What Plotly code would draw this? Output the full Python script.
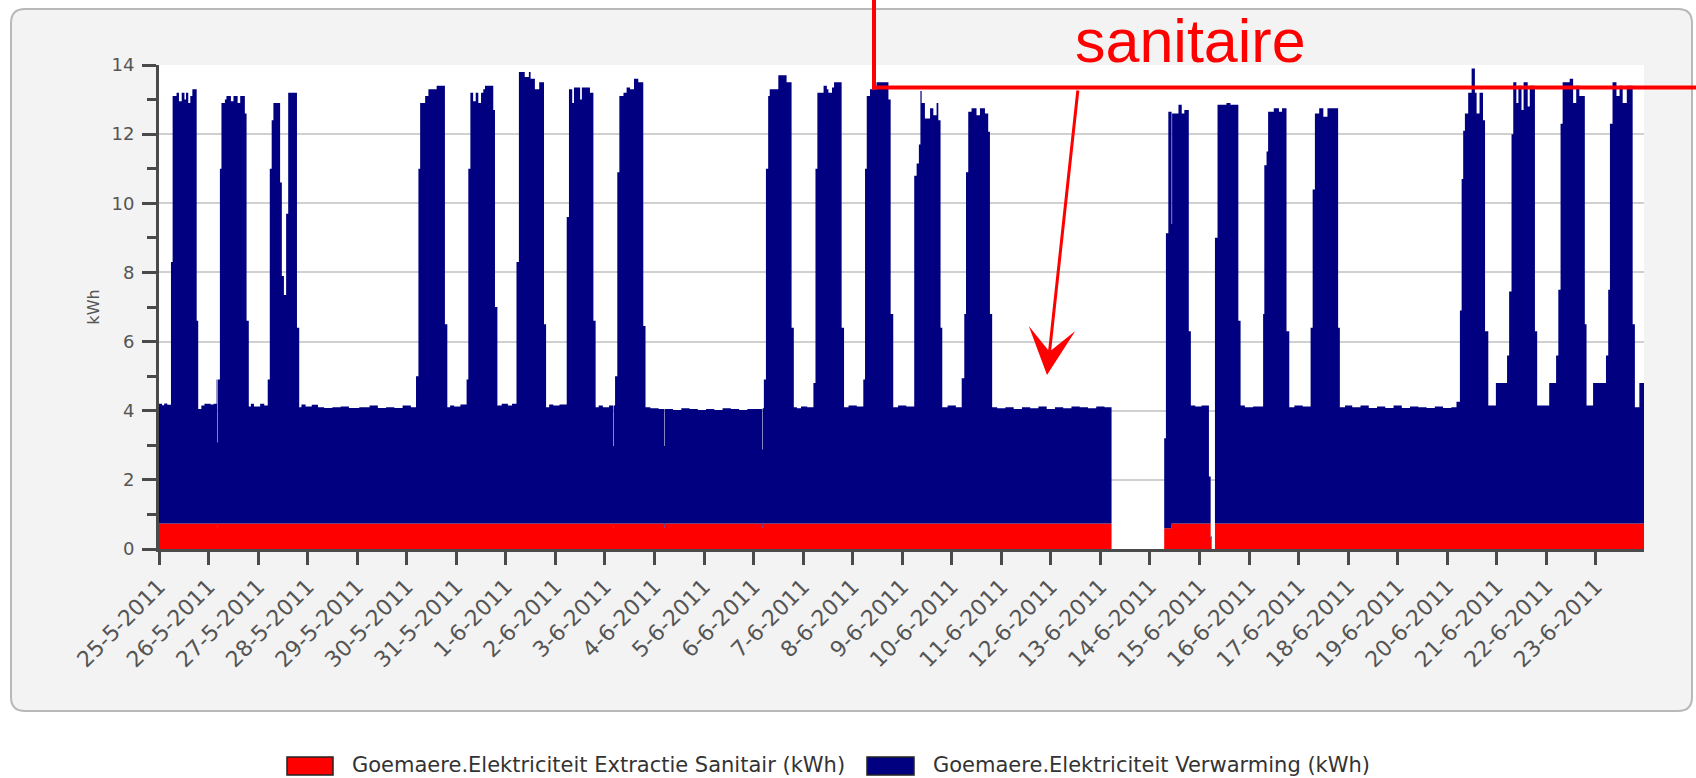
import plotly.graph_objects as go

# ---------------- data ----------------
# step breakpoints: each value holds until the next breakpoint
times = [
    # 25-5
    "2011-05-25 00:00", "2011-05-25 01:30", "2011-05-25 02:30", "2011-05-25 04:00", "2011-05-25 05:48", "2011-05-25 06:36",
    "2011-05-25 08:30", "2011-05-25 09:40", "2011-05-25 11:00", "2011-05-25 12:20", "2011-05-25 13:05", "2011-05-25 14:10",
    "2011-05-25 15:10", "2011-05-25 16:10", "2011-05-25 18:15", "2011-05-25 19:00", "2011-05-25 20:30", "2011-05-25 22:00",
    # 26-5
    "2011-05-26 01:00", "2011-05-26 02:30", "2011-05-26 03:54", "2011-05-26 04:20", "2011-05-26 04:35", "2011-05-26 05:30",
    "2011-05-26 06:15", "2011-05-26 07:55", "2011-05-26 08:40", "2011-05-26 10:50", "2011-05-26 12:05", "2011-05-26 14:05",
    "2011-05-26 15:20", "2011-05-26 17:35", "2011-05-26 18:25", "2011-05-26 19:30", "2011-05-26 20:30", "2011-05-26 22:00",
    # 27-5
    "2011-05-27 01:00", "2011-05-27 03:00", "2011-05-27 04:40", "2011-05-27 05:40", "2011-05-27 06:35", "2011-05-27 07:25",
    "2011-05-27 10:40", "2011-05-27 11:30", "2011-05-27 12:30", "2011-05-27 13:35", "2011-05-27 14:35", "2011-05-27 18:50",
    "2011-05-27 19:55", "2011-05-27 21:00", "2011-05-27 23:00",
    # 28-5
    "2011-05-28 02:00", "2011-05-28 05:00", "2011-05-28 08:00", "2011-05-28 12:00", "2011-05-28 16:00", "2011-05-28 20:00",
    # 29-5
    "2011-05-29 01:00", "2011-05-29 06:00", "2011-05-29 10:00", "2011-05-29 14:00", "2011-05-29 18:00", "2011-05-29 22:00",
    # 30-5
    "2011-05-30 02:00", "2011-05-30 04:30", "2011-05-30 05:40", "2011-05-30 06:30", "2011-05-30 08:55", "2011-05-30 10:30",
    "2011-05-30 14:30", "2011-05-30 18:30", "2011-05-30 19:40", "2011-05-30 21:00", "2011-05-30 23:00",
    # 31-5
    "2011-05-31 02:00", "2011-05-31 05:00", "2011-05-31 05:50", "2011-05-31 06:50", "2011-05-31 08:10", "2011-05-31 09:25",
    "2011-05-31 10:40", "2011-05-31 12:00", "2011-05-31 13:05", "2011-05-31 13:55", "2011-05-31 17:55", "2011-05-31 18:45",
    "2011-05-31 19:55", "2011-05-31 22:00",
    # 1-6
    "2011-06-01 01:00", "2011-06-01 03:00", "2011-06-01 05:10", "2011-06-01 06:20", "2011-06-01 09:10", "2011-06-01 11:10",
    "2011-06-01 12:00", "2011-06-01 14:05", "2011-06-01 16:10", "2011-06-01 18:30", "2011-06-01 19:30", "2011-06-01 21:00",
    "2011-06-01 23:00",
    # 2-6
    "2011-06-02 02:00", "2011-06-02 05:30", "2011-06-02 06:35", "2011-06-02 08:10", "2011-06-02 09:00", "2011-06-02 12:00",
    "2011-06-02 12:50", "2011-06-02 16:45", "2011-06-02 18:25", "2011-06-02 19:30", "2011-06-02 21:00", "2011-06-02 23:00",
    # 3-6
    "2011-06-03 02:00", "2011-06-03 04:00", "2011-06-03 04:15", "2011-06-03 04:55", "2011-06-03 06:00", "2011-06-03 07:00",
    "2011-06-03 09:00", "2011-06-03 10:30", "2011-06-03 12:10", "2011-06-03 14:05", "2011-06-03 16:10", "2011-06-03 18:35",
    "2011-06-03 19:40", "2011-06-03 22:00",
    # 4-6
    "2011-06-04 02:00", "2011-06-04 04:50", "2011-06-04 05:05", "2011-06-04 09:00", "2011-06-04 13:00", "2011-06-04 17:00",
    "2011-06-04 21:00",
    # 5-6
    "2011-06-05 01:00", "2011-06-05 05:00", "2011-06-05 09:00", "2011-06-05 13:00", "2011-06-05 17:00", "2011-06-05 21:00",
    # 6-6
    "2011-06-06 01:00", "2011-06-06 04:10", "2011-06-06 04:25", "2011-06-06 05:00", "2011-06-06 06:00", "2011-06-06 07:05",
    "2011-06-06 07:50", "2011-06-06 12:00", "2011-06-06 16:00", "2011-06-06 18:25", "2011-06-06 19:30", "2011-06-06 21:00",
    "2011-06-06 23:00",
    # 7-6
    "2011-06-07 02:00", "2011-06-07 05:00", "2011-06-07 06:00", "2011-06-07 06:55", "2011-06-07 09:55", "2011-06-07 11:30",
    "2011-06-07 12:15", "2011-06-07 14:00", "2011-06-07 15:00", "2011-06-07 18:40", "2011-06-07 19:50", "2011-06-07 22:00",
    # 8-6
    "2011-06-08 02:00", "2011-06-08 05:10", "2011-06-08 06:00", "2011-06-08 06:50", "2011-06-08 08:25", "2011-06-08 11:35",
    "2011-06-08 17:20", "2011-06-08 18:25", "2011-06-08 19:40", "2011-06-08 22:00",
    # 9-6
    "2011-06-09 02:00", "2011-06-09 05:50", "2011-06-09 07:00", "2011-06-09 08:05", "2011-06-09 08:50", "2011-06-09 09:25",
    "2011-06-09 11:00", "2011-06-09 13:30", "2011-06-09 15:05", "2011-06-09 16:40", "2011-06-09 17:30", "2011-06-09 18:35",
    "2011-06-09 19:25", "2011-06-09 22:00",
    # 10-6
    "2011-06-10 02:00", "2011-06-10 04:50", "2011-06-10 06:05", "2011-06-10 06:55", "2011-06-10 08:00", "2011-06-10 09:35",
    "2011-06-10 12:00", "2011-06-10 13:40", "2011-06-10 16:05", "2011-06-10 17:40", "2011-06-10 18:30", "2011-06-10 19:35",
    "2011-06-10 22:00",
    # 11-6
    "2011-06-11 02:00", "2011-06-11 06:00", "2011-06-11 10:00", "2011-06-11 14:00", "2011-06-11 18:00", "2011-06-11 22:00",
    # 12-6
    "2011-06-12 02:00", "2011-06-12 06:00", "2011-06-12 10:00", "2011-06-12 14:00", "2011-06-12 18:00", "2011-06-12 22:00",
    # 13-6
    "2011-06-13 02:00", "2011-06-13 05:25",
    # 14-6
    "2011-06-14 06:55", "2011-06-14 07:45", "2011-06-14 08:55", "2011-06-14 10:30", "2011-06-14 10:45", "2011-06-14 13:50",
    "2011-06-14 15:25", "2011-06-14 16:40", "2011-06-14 18:50", "2011-06-14 19:50", "2011-06-14 22:00",
    # 15-6
    "2011-06-15 01:00", "2011-06-15 04:35", "2011-06-15 05:25", "2011-06-15 05:55", "2011-06-15 07:30", "2011-06-15 08:45",
    "2011-06-15 13:05", "2011-06-15 15:00", "2011-06-15 18:50", "2011-06-15 19:55", "2011-06-15 22:00",
    # 16-6
    "2011-06-16 02:00", "2011-06-16 06:50", "2011-06-16 07:25", "2011-06-16 08:30", "2011-06-16 09:15", "2011-06-16 12:00",
    "2011-06-16 14:30", "2011-06-16 16:00", "2011-06-16 18:10", "2011-06-16 19:30", "2011-06-16 22:00",
    # 17-6
    "2011-06-17 02:00", "2011-06-17 05:50", "2011-06-17 06:50", "2011-06-17 07:55", "2011-06-17 10:00", "2011-06-17 12:00",
    "2011-06-17 14:00", "2011-06-17 19:10", "2011-06-17 20:00", "2011-06-17 22:30",
    # 18-6
    "2011-06-18 02:00", "2011-06-18 06:00", "2011-06-18 10:00", "2011-06-18 14:00", "2011-06-18 18:00", "2011-06-18 22:00",
    # 19-6
    "2011-06-19 02:00", "2011-06-19 06:00", "2011-06-19 10:00", "2011-06-19 14:00", "2011-06-19 18:00", "2011-06-19 22:00",
    # 20-6
    "2011-06-20 02:00", "2011-06-20 04:30", "2011-06-20 06:10", "2011-06-20 07:00", "2011-06-20 07:45", "2011-06-20 08:35",
    "2011-06-20 10:10", "2011-06-20 11:50", "2011-06-20 13:25", "2011-06-20 14:15", "2011-06-20 15:40", "2011-06-20 17:20",
    "2011-06-20 18:20", "2011-06-20 19:55", "2011-06-20 23:35",
    # 21-6
    "2011-06-21 05:00", "2011-06-21 06:00", "2011-06-21 07:10", "2011-06-21 08:00", "2011-06-21 09:30", "2011-06-21 10:30",
    "2011-06-21 12:00", "2011-06-21 13:00", "2011-06-21 15:00", "2011-06-21 16:00", "2011-06-21 18:30", "2011-06-21 19:35",
    # 22-6
    "2011-06-22 01:25", "2011-06-22 04:45", "2011-06-22 05:50", "2011-06-22 06:55", "2011-06-22 07:55", "2011-06-22 11:20",
    "2011-06-22 13:00", "2011-06-22 14:30", "2011-06-22 16:00", "2011-06-22 18:40", "2011-06-22 19:30", "2011-06-22 22:40",
    # 23-6
    "2011-06-23 04:55", "2011-06-23 06:00", "2011-06-23 06:50", "2011-06-23 08:05", "2011-06-23 10:00", "2011-06-23 11:30",
    "2011-06-23 13:00", "2011-06-23 15:00", "2011-06-23 17:50", "2011-06-23 18:55", "2011-06-23 21:05", "2011-06-23 23:20",
]

sanitair_kwh = [
    # 25-5
    0.74, 0.74, 0.74, 0.74, 0.74, 0.74, 0.74, 0.74, 0.74, 0.74, 0.74, 0.74, 0.74, 0.74, 0.74, 0.74, 0.74, 0.74,
    # 26-5
    0.74, 0.74, 0.74, 0.62, 0.74, 0.74, 0.74, 0.74, 0.74, 0.74, 0.74, 0.74, 0.74, 0.74, 0.74, 0.74, 0.74, 0.74,
    # 27-5
    0.74, 0.74, 0.74, 0.74, 0.74, 0.74, 0.74, 0.74, 0.74, 0.74, 0.74, 0.74, 0.74, 0.74, 0.74,
    # 28-5
    0.74, 0.74, 0.74, 0.74, 0.74, 0.74,
    # 29-5
    0.74, 0.74, 0.74, 0.74, 0.74, 0.74,
    # 30-5
    0.74, 0.74, 0.74, 0.74, 0.74, 0.74, 0.74, 0.74, 0.74, 0.74, 0.74,
    # 31-5
    0.74, 0.74, 0.74, 0.74, 0.74, 0.74, 0.74, 0.74, 0.74, 0.74, 0.74, 0.74, 0.74, 0.74,
    # 1-6
    0.74, 0.74, 0.74, 0.74, 0.74, 0.74, 0.74, 0.74, 0.74, 0.74, 0.74, 0.74, 0.74,
    # 2-6
    0.74, 0.74, 0.74, 0.74, 0.74, 0.74, 0.74, 0.74, 0.74, 0.74, 0.74, 0.74,
    # 3-6
    0.74, 0.62, 0.74, 0.74, 0.74, 0.74, 0.74, 0.74, 0.74, 0.74, 0.74, 0.74, 0.74, 0.74,
    # 4-6
    0.74, 0.62, 0.74, 0.74, 0.74, 0.74, 0.74,
    # 5-6
    0.74, 0.74, 0.74, 0.74, 0.74, 0.74,
    # 6-6
    0.74, 0.62, 0.74, 0.74, 0.74, 0.74, 0.74, 0.74, 0.74, 0.74, 0.74, 0.74, 0.74,
    # 7-6
    0.74, 0.74, 0.74, 0.74, 0.74, 0.74, 0.74, 0.74, 0.74, 0.74, 0.74, 0.74,
    # 8-6
    0.74, 0.74, 0.74, 0.74, 0.74, 0.74, 0.74, 0.74, 0.74, 0.74,
    # 9-6
    0.74, 0.74, 0.74, 0.74, 0.74, 0.74, 0.74, 0.74, 0.74, 0.74, 0.74, 0.74, 0.74, 0.74,
    # 10-6
    0.74, 0.74, 0.74, 0.74, 0.74, 0.74, 0.74, 0.74, 0.74, 0.74, 0.74, 0.74, 0.74,
    # 11-6
    0.74, 0.74, 0.74, 0.74, 0.74, 0.74,
    # 12-6
    0.74, 0.74, 0.74, 0.74, 0.74, 0.74,
    # 13-6
    0.74, 0.00,
    # 14-6
    0.60, 0.60, 0.60, 0.74, 0.74, 0.74, 0.74, 0.74, 0.74, 0.74, 0.74,
    # 15-6
    0.74, 0.74, 0.30, 0.00, 0.74, 0.74, 0.74, 0.74, 0.74, 0.74, 0.74,
    # 16-6
    0.74, 0.74, 0.74, 0.74, 0.74, 0.74, 0.74, 0.74, 0.74, 0.74, 0.74,
    # 17-6
    0.74, 0.74, 0.74, 0.74, 0.74, 0.74, 0.74, 0.74, 0.74, 0.74,
    # 18-6
    0.74, 0.74, 0.74, 0.74, 0.74, 0.74,
    # 19-6
    0.74, 0.74, 0.74, 0.74, 0.74, 0.74,
    # 20-6
    0.74, 0.74, 0.74, 0.74, 0.74, 0.74, 0.74, 0.74, 0.74, 0.74, 0.74, 0.74, 0.74, 0.74, 0.74,
    # 21-6
    0.74, 0.74, 0.74, 0.74, 0.74, 0.74, 0.74, 0.74, 0.74, 0.74, 0.74, 0.74,
    # 22-6
    0.74, 0.74, 0.74, 0.74, 0.74, 0.74, 0.74, 0.74, 0.74, 0.74, 0.74, 0.74,
    # 23-6
    0.74, 0.74, 0.74, 0.74, 0.74, 0.74, 0.74, 0.74, 0.74, 0.74, 0.74, 0.74,
]

verwarming_kwh = [
    # 25-5
    3.46, 3.42, 3.47, 3.43, 7.56, 12.36, 12.46, 12.21, 12.46, 12.26, 12.46, 12.16, 12.36, 12.56, 5.86, 3.31, 3.41, 3.46,
    # 26-5
    3.44, 3.46, 4.16, 2.46, 4.16, 10.26, 12.16, 12.26, 12.36, 12.21, 12.36, 12.16, 12.36, 11.86, 5.86, 3.38, 3.46, 3.38,
    # 27-5
    3.46, 3.41, 4.16, 10.26, 11.66, 12.16, 9.86, 7.16, 6.61, 8.96, 12.46, 5.66, 3.36, 3.44, 3.38,
    # 28-5
    3.43, 3.36, 3.34, 3.36, 3.38, 3.34,
    # 29-5
    3.36, 3.41, 3.34, 3.36, 3.34, 3.41,
    # 30-5
    3.36, 4.26, 10.26, 12.16, 12.36, 12.56, 12.66, 5.76, 3.36, 3.41, 3.38,
    # 31-5
    3.44, 4.16, 10.26, 12.46, 12.21, 12.46, 12.16, 12.46, 12.56, 12.66, 11.96, 6.26, 3.41, 3.46,
    # 1-6
    3.41, 3.46, 7.56, 13.06, 12.91, 13.06, 12.86, 12.56, 12.76, 5.76, 3.36, 3.44, 3.41,
    # 2-6
    3.44, 8.86, 12.56, 12.16, 12.61, 12.26, 12.61, 12.46, 5.86, 3.36, 3.41, 3.36,
    # 3-6
    3.41, 2.36, 3.41, 4.26, 10.16, 12.36, 12.46, 12.61, 12.56, 12.86, 12.76, 5.71, 3.36, 3.33,
    # 4-6
    3.31, 2.36, 3.31, 3.28, 3.33, 3.31, 3.28,
    # 5-6
    3.31, 3.28, 3.33, 3.31, 3.28, 3.31,
    # 6-6
    3.31, 2.26, 3.33, 4.16, 10.26, 12.36, 12.56, 12.96, 12.76, 5.66, 3.36, 3.33, 3.38,
    # 7-6
    3.36, 4.06, 10.26, 12.46, 12.66, 12.56, 12.46, 12.61, 12.76, 5.66, 3.36, 3.41,
    # 8-6
    3.38, 4.16, 10.26, 12.36, 12.56, 12.76, 12.26, 6.06, 3.36, 3.41,
    # 9-6
    3.38, 10.06, 10.41, 10.96, 12.51, 12.16, 11.71, 12.01, 11.81, 12.16, 11.66, 5.66, 3.36, 3.41,
    # 10-6
    3.36, 4.20, 6.06, 10.16, 11.91, 12.01, 11.81, 12.01, 11.86, 11.33, 6.06, 3.36, 3.33,
    # 11-6
    3.36, 3.31, 3.36, 3.33, 3.38, 3.31,
    # 12-6
    3.36, 3.33, 3.38, 3.36, 3.33, 3.38,
    # 13-6
    3.36, 0.00,
    # 14-6
    2.60, 8.53, 12.05, 8.66, 11.86, 12.11, 11.86, 11.96, 5.56, 3.41, 3.38,
    # 15-6
    3.41, 1.36, 0.06, 0.00, 8.26, 12.11, 12.16, 12.11, 5.86, 3.41, 3.36,
    # 16-6
    3.38, 6.06, 10.36, 10.76, 11.91, 12.01, 11.91, 12.01, 5.56, 3.36, 3.41,
    # 17-6
    3.38, 5.66, 9.66, 11.86, 12.01, 11.76, 12.01, 5.66, 3.36, 3.41,
    # 18-6
    3.36, 3.41, 3.34, 3.38, 3.34, 3.41,
    # 19-6
    3.34, 3.38, 3.36, 3.34, 3.38, 3.34,
    # 20-6
    3.36, 3.52, 6.16, 9.96, 11.36, 11.86, 12.46, 13.16, 12.46, 11.86, 12.46, 11.66, 5.56, 3.41, 4.06,
    # 21-6
    4.86, 6.71, 11.26, 12.76, 12.16, 12.66, 11.96, 12.76, 12.06, 12.66, 5.56, 3.41,
    # 22-6
    4.06, 4.86, 6.76, 11.56, 12.76, 12.86, 12.16, 12.66, 12.36, 5.76, 3.41, 4.06,
    # 23-6
    4.86, 6.76, 11.56, 12.76, 12.36, 12.66, 12.16, 12.66, 5.76, 3.36, 4.06, 3.96,
]

assert len(times) == len(sanitair_kwh) == len(verwarming_kwh), (len(times), len(sanitair_kwh), len(verwarming_kwh))

tick_dates = [
    "2011-05-25", "2011-05-26", "2011-05-27", "2011-05-28", "2011-05-29", "2011-05-30", "2011-05-31",
    "2011-06-01", "2011-06-02", "2011-06-03", "2011-06-04", "2011-06-05", "2011-06-06", "2011-06-07",
    "2011-06-08", "2011-06-09", "2011-06-10", "2011-06-11", "2011-06-12", "2011-06-13", "2011-06-14",
    "2011-06-15", "2011-06-16", "2011-06-17", "2011-06-18", "2011-06-19", "2011-06-20", "2011-06-21",
    "2011-06-22", "2011-06-23",
]
tick_labels = [
    "25-5-2011", "26-5-2011", "27-5-2011", "28-5-2011", "29-5-2011", "30-5-2011", "31-5-2011",
    "1-6-2011", "2-6-2011", "3-6-2011", "4-6-2011", "5-6-2011", "6-6-2011", "7-6-2011",
    "8-6-2011", "9-6-2011", "10-6-2011", "11-6-2011", "12-6-2011", "13-6-2011", "14-6-2011",
    "15-6-2011", "16-6-2011", "17-6-2011", "18-6-2011", "19-6-2011", "20-6-2011", "21-6-2011",
    "22-6-2011", "23-6-2011",
]
series_names = [
    "Goemaere.Elektriciteit Extractie Sanitair (kWh)",
    "Goemaere.Elektriciteit Verwarming (kWh)",
]
series_colors = ["#ff0000", "#000080"]
annotation_text = "sanitaire"

# ---------------- layout geometry (page pixels) ----------------
FIG_W, FIG_H = 1696, 778
PL, PR, PT, PB = 159, 1644, 65, 549          # plot area in page pixels
PW, PH = PR - PL, PB - PT


def px(x):
    return (x - PL) / PW


def py(y):
    return (PB - y) / PH


fig = go.Figure()
for name, vals, col in zip(series_names, [sanitair_kwh, verwarming_kwh], series_colors):
    fig.add_trace(go.Scatter(
        x=times, y=vals, name=name, mode="lines", stackgroup="one",
        line=dict(width=0, shape="hv", color=col), fillcolor=col,
        showlegend=False,
    ))

# outer rounded panel
x0, x1, y0, y1, r = 11, 1692, 9, 711, 14
rx, ry = r / PW, r / PH
X0, X1, Y0, Y1 = px(x0), px(x1), py(y0), py(y1)
panel_path = (
    f"M{X0 + rx},{Y0} L{X1 - rx},{Y0} Q{X1},{Y0} {X1},{Y0 - ry} "
    f"L{X1},{Y1 + ry} Q{X1},{Y1} {X1 - rx},{Y1} "
    f"L{X0 + rx},{Y1} Q{X0},{Y1} {X0},{Y1 + ry} "
    f"L{X0},{Y0 - ry} Q{X0},{Y0} {X0 + rx},{Y0} Z"
)
shapes = [
    dict(type="path", xref="paper", yref="paper", path=panel_path,
         fillcolor="#f3f3f3", line=dict(color="#b8b8b8", width=2), layer="below"),
    dict(type="rect", xref="paper", yref="paper", x0=0, x1=1, y0=0, y1=1,
         fillcolor="#ffffff", line=dict(width=0), layer="below"),
    # red callout lines
    dict(type="line", xref="paper", yref="paper", x0=px(874), x1=px(874), y0=py(-5), y1=py(89.5),
         line=dict(color="#ff0000", width=4), layer="above"),
    dict(type="line", xref="paper", yref="paper", x0=px(872), x1=px(1710), y0=py(87.5), y1=py(87.5),
         line=dict(color="#ff0000", width=4), layer="above"),
]

# manual legend boxes
leg_boxes = [(287, 333), (867, 914)]
leg_text_x = [350, 931]
annotations = []
for (bx0, bx1), tx, name, col in zip(leg_boxes, leg_text_x, series_names, series_colors):
    shapes.append(dict(type="rect", xref="paper", yref="paper",
                       x0=px(bx0), x1=px(bx1), y0=py(775), y1=py(757),
                       fillcolor=col, line=dict(color="#222222", width=1.5)))
    annotations.append(dict(xref="paper", yref="paper", x=px(tx), y=py(765),
                            xanchor="left", yanchor="middle", showarrow=False,
                            text=name, font=dict(family="DejaVu Sans", size=21, color="#333333")))

annotations.append(dict(xref="paper", yref="paper", x=px(1190), y=py(41),
                        xanchor="center", yanchor="middle", showarrow=False,
                        text=annotation_text,
                        font=dict(family="Liberation Sans, Arial", size=61, color="#ff0000")))
annotations.append(dict(xref="paper", yref="paper", x=px(1047), y=py(375),
                        axref="pixel", ayref="pixel", ax=31, ay=-286,
                        text="", showarrow=True, arrowhead=3, arrowsize=2.6,
                        arrowwidth=3, arrowcolor="#ff0000", standoff=0))

fig.update_layout(
    width=FIG_W, height=FIG_H,
    margin=dict(l=PL, r=FIG_W - PR, t=PT, b=FIG_H - PB, pad=0),
    paper_bgcolor="#ffffff", plot_bgcolor="#ffffff",
    font=dict(family="DejaVu Sans", color="#555555"),
    showlegend=False,
    shapes=shapes, annotations=annotations,
    xaxis=dict(
        type="date", range=["2011-05-25 00:00", "2011-06-23 23:20"],
        tickmode="array", tickvals=tick_dates, ticktext=tick_labels, tickangle=-45,
        tickfont=dict(size=22, color="#555555"),
        ticks="outside", ticklen=13, tickwidth=2.5, tickcolor="#4a4a4a",
        showline=True, linewidth=3, linecolor="#4a4a4a",
        showgrid=False, zeroline=False, fixedrange=True,
    ),
    yaxis=dict(
        range=[0, 14], tickmode="linear", tick0=0, dtick=2,
        tickfont=dict(size=18, color="#555555"),
        ticks="outside", ticklen=14, tickwidth=2.5, tickcolor="#4a4a4a",
        minor=dict(dtick=1, ticks="outside", ticklen=9, tickwidth=2.5, tickcolor="#4a4a4a", showgrid=False),
        showline=True, linewidth=3, linecolor="#4a4a4a",
        showgrid=True, gridcolor="#d0d0d0", gridwidth=1.5, zeroline=False,
        title=dict(text="kWh", font=dict(size=16, color="#555555"), standoff=8),
        ticklabelstandoff=4, fixedrange=True,
    ),
)

# remove the default 8px page margin so the figure fills the window exactly
fig.write_html(
    "out.html",
    config={"displayModeBar": False},
    post_script="document.body.style.margin='0';document.body.style.overflow='hidden';",
)
